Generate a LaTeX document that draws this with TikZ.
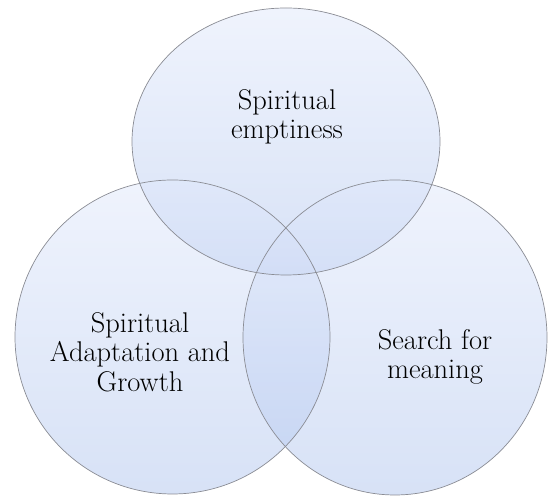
\documentclass[tikz,border=0pt]{standalone}

\definecolor{ringtop}{RGB}{224,232,251}
\definecolor{ringbot}{RGB}{176,197,238}
\definecolor{ringedge}{RGB}{138,140,148}

\tikzset{
  ringfill/.style={top color=ringtop, bottom color=ringbot, fill opacity=0.5},
  ringline/.style={draw=ringedge, line width=0.7pt},
  venntext/.style={align=center, inner sep=0pt, font=\fontsize{28.5}{29.5}\selectfont}
}

\begin{document}
\begin{tikzpicture}[x=1pt,y=1pt]
\useasboundingbox (0,0) rectangle (550,497);
% the three circles
\shade[ringfill] (286,355.5) ellipse (154pt and 133.5pt);
\shade[ringfill] (172.5,160) ellipse (157.5pt and 157pt);
\shade[ringfill] (395,159.5) ellipse (152pt and 157.5pt);
\draw[ringline] (286,355.5) ellipse (154pt and 133.5pt);
\draw[ringline] (172.5,160) ellipse (157.5pt and 157pt);
\draw[ringline] (395,159.5) ellipse (152pt and 157.5pt);
% labels
\node[venntext] (empty) at (287,380) {Spiritual\\emptiness};
\node[venntext] (growth) at (140,145) {Spiritual\\Adaptation and\\Growth};
\node[venntext] (meaning) at (435,140) {Search for\\meaning};
\end{tikzpicture}
\end{document}
